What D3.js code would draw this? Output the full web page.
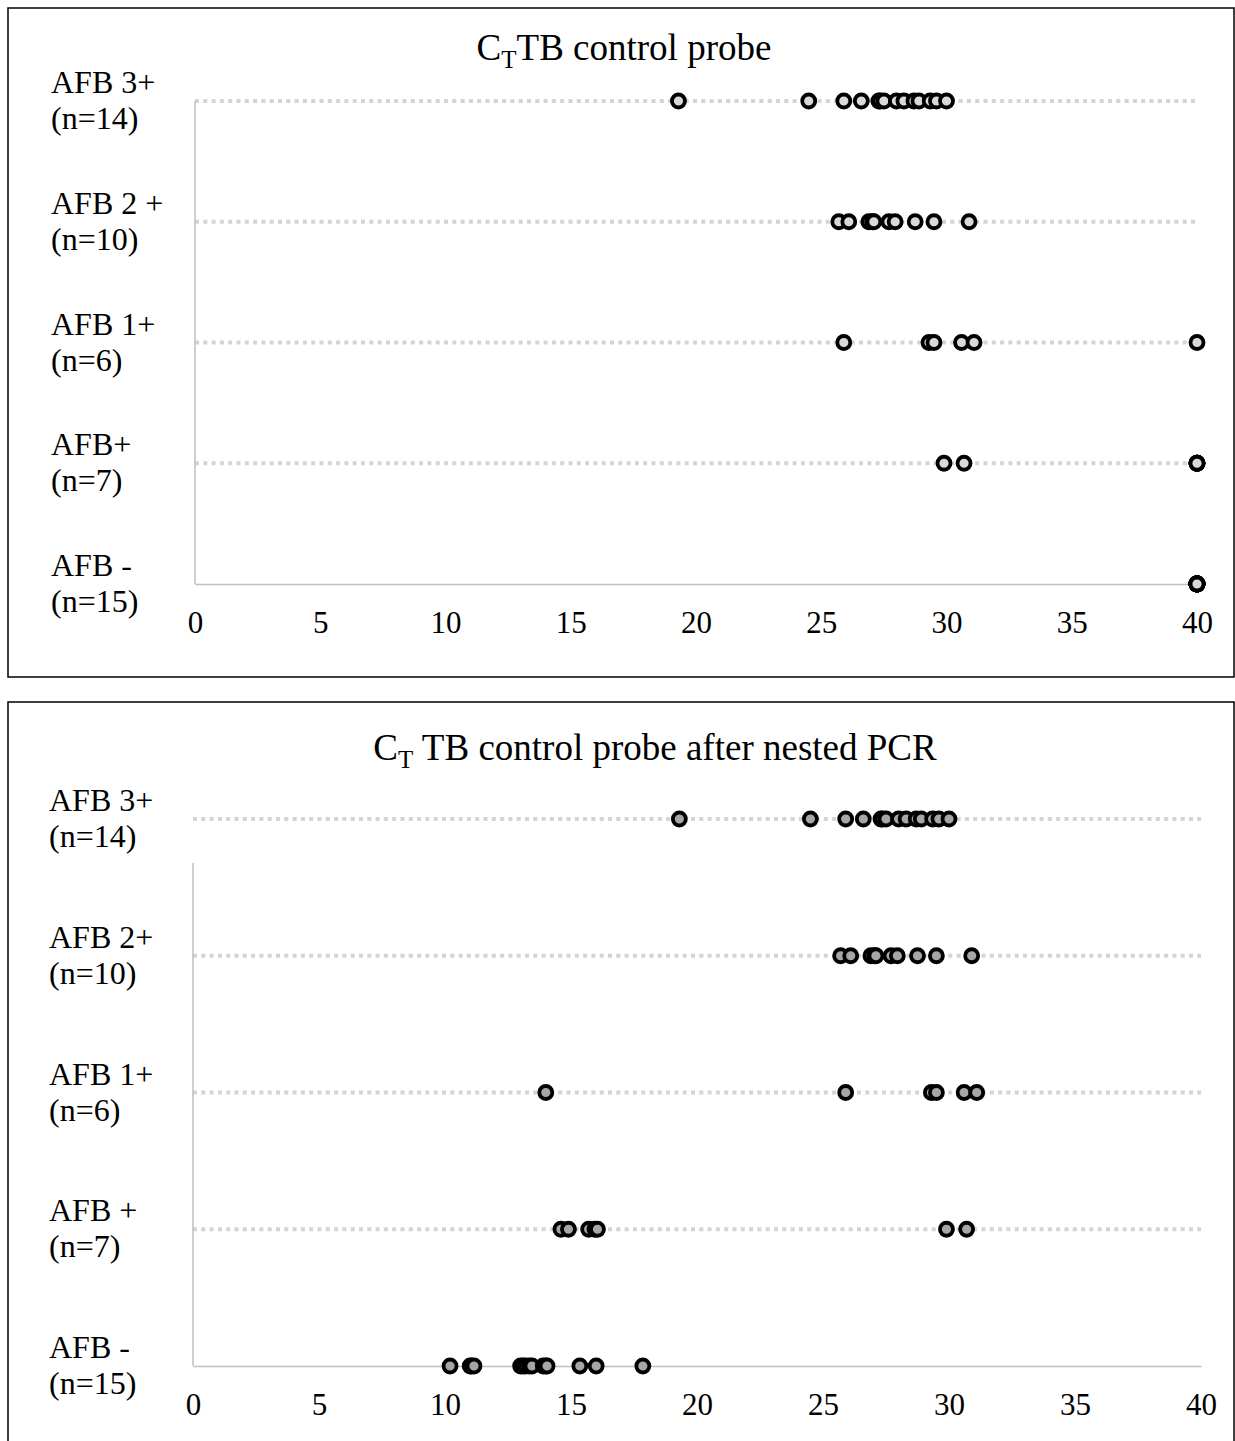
<!DOCTYPE html>
<html>
<head>
<meta charset="utf-8">
<title>CT TB control probe</title>
<script src="https://cdn.jsdelivr.net/npm/d3@7"></script>
<style>
  body { margin: 0; background: #fff; }
  svg { display: block; font-family: "Liberation Serif", "Times New Roman", serif; }
</style>
</head>
<body>
<svg id="chart" width="1235" height="1441"></svg>
<script>
// =========================
// DATI
// =========================
const topCategories = ["AFB 3+", "AFB 2 +", "AFB 1+", "AFB+", "AFB -"];
const bottomCategories = ["AFB 3+", "AFB 2+", "AFB 1+", "AFB +", "AFB -"];
const counts = ["(n=14)", "(n=10)", "(n=6)", "(n=7)", "(n=15)"];
const xTicks = [0, 5, 10, 15, 20, 25, 30, 35, 40];

// Ct, TB control probe
const ctAfb3 = [19.3, 24.5, 25.9, 26.6, 27.3, 27.35, 27.5, 28.0, 28.3, 28.7, 28.9, 29.35, 29.6, 30.0];
const ctAfb2 = [25.7, 26.1, 26.9, 27.05, 27.1, 27.7, 27.95, 28.75, 29.5, 30.9];
const ctAfb1 = [25.9, 29.3, 29.5, 30.6, 31.1, 40];
const ctAfbPos = [29.9, 30.7, 40, 40, 40, 40, 40];
const ctAfbNeg = [40, 40, 40, 40, 40, 40, 40, 40, 40, 40, 40, 40, 40, 40, 40];

// Ct, TB control probe after nested PCR
const nestedAfb3 = [19.3, 24.5, 25.9, 26.6, 27.3, 27.35, 27.5, 28.0, 28.3, 28.7, 28.9, 29.35, 29.6, 30.0];
const nestedAfb2 = [25.7, 26.1, 26.9, 27.05, 27.1, 27.7, 27.95, 28.75, 29.5, 30.9];
const nestedAfb1 = [14.0, 25.9, 29.3, 29.5, 30.6, 31.1];
const nestedAfbPos = [14.6, 14.9, 15.7, 15.95, 16.05, 29.9, 30.7];
const nestedAfbNeg = [10.2, 11.0, 11.05, 11.15, 13.0, 13.1, 13.2, 13.35, 13.45, 13.9, 14.0, 14.05, 15.35, 16.0, 17.85];

// =========================
// GRAFICO
// =========================
const svg = d3.select("#chart");

function drawPanel(cfg) {
  const g = svg.append("g");

  // cornice
  g.append("rect")
    .attr("x", cfg.box[0]).attr("y", cfg.box[1])
    .attr("width", cfg.box[2]).attr("height", cfg.box[3])
    .attr("fill", "none").attr("stroke", "#000").attr("stroke-width", 1.5);

  const x = d3.scaleLinear().domain([0, 40]).range(cfg.xRange);
  const y = d3.scalePoint().domain(cfg.categories).range(cfg.yRange);
  const last = cfg.categories[cfg.categories.length - 1];

  // titolo con pedice
  const title = g.append("text")
    .attr("x", cfg.titleX).attr("y", cfg.titleY)
    .attr("text-anchor", "middle")
    .attr("font-size", 37);
  title.append("tspan").text("C");
  title.append("tspan").attr("font-size", 25).attr("dy", 8).text("T");
  title.append("tspan").attr("dy", -8).text(cfg.titleRest);

  // linee tratteggiate
  g.selectAll(".row-line")
    .data(cfg.categories.slice(0, -1))
    .join("line")
    .attr("x1", x(0)).attr("x2", x(40))
    .attr("y1", d => y(d)).attr("y2", d => y(d))
    .attr("stroke", "#d4d4d4")
    .attr("stroke-width", 4)
    .attr("stroke-dasharray", "4 4.3");

  // assi
  g.append("line")
    .attr("x1", x(0)).attr("x2", x(0))
    .attr("y1", y(cfg.categories[0]) + cfg.axisGap).attr("y2", y(last))
    .attr("stroke", "#bfbfbf").attr("stroke-width", 1.5);

  const xAxis = g.append("g")
    .attr("transform", `translate(0,${y(last)})`)
    .call(d3.axisBottom(x).tickValues(xTicks).tickSize(0).tickPadding(27));
  xAxis.select(".domain").attr("stroke", "#bfbfbf").attr("stroke-width", 1.5);
  xAxis.selectAll("text")
    .attr("font-size", 31)
    .attr("font-family", "Liberation Serif, Times New Roman, serif")
    .attr("fill", "#000");

  // etichette categorie
  cfg.categories.forEach((c, i) => {
    const t = g.append("text")
      .attr("x", cfg.labelX)
      .attr("y", y(c) - 8)
      .attr("font-size", 32);
    t.append("tspan").attr("x", cfg.labelX).text(c);
    t.append("tspan").attr("x", cfg.labelX).attr("dy", 36).text(counts[i]);
  });

  // punti
  cfg.series.forEach((vals, i) => {
    g.append("g").selectAll("circle")
      .data(vals)
      .join("circle")
      .attr("cx", d => x(d))
      .attr("cy", y(cfg.categories[i]))
      .attr("r", 6.5)
      .attr("fill", cfg.fill)
      .attr("stroke", "#000")
      .attr("stroke-width", 3.8);
  });
}

drawPanel({
  box: [8, 8, 1226, 669],
  xRange: [195, 1197],
  yRange: [101, 584],
  axisGap: 0,
  categories: topCategories,
  series: [ctAfb3, ctAfb2, ctAfb1, ctAfbPos, ctAfbNeg],
  titleRest: "TB control probe",
  titleX: 624,
  titleY: 60,
  labelX: 51,
  fill: "#d9d9d9"
});

drawPanel({
  box: [8, 702, 1226, 760],
  xRange: [193, 1201],
  yRange: [819, 1366],
  axisGap: 44,
  categories: bottomCategories,
  series: [nestedAfb3, nestedAfb2, nestedAfb1, nestedAfbPos, nestedAfbNeg],
  titleRest: " TB control probe after nested PCR",
  titleX: 655,
  titleY: 760,
  labelX: 49,
  fill: "#a6a6a6"
});
</script>
</body>
</html>
